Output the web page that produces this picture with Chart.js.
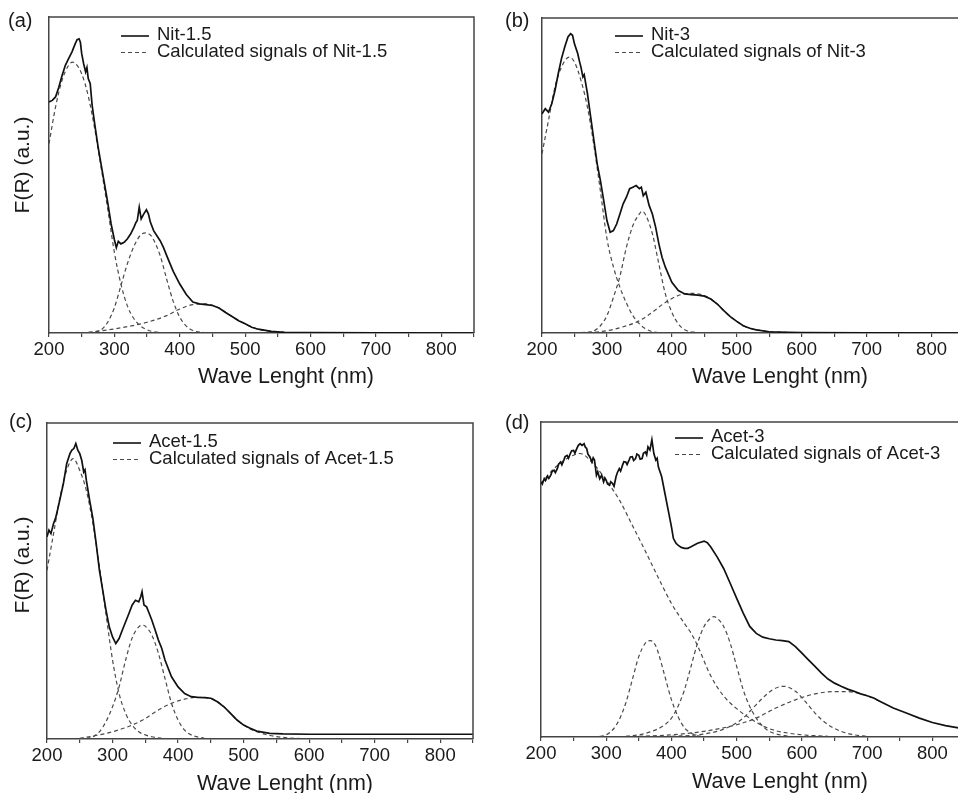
<!DOCTYPE html>
<html>
<head>
<meta charset="utf-8">
<script src="https://cdn.jsdelivr.net/npm/chart.js@4.4.1/dist/chart.umd.min.js"></script>
<style>
  html, body { margin: 0; padding: 0; background: #fff; overflow: hidden; }
  body { width: 958px; height: 793px; position: relative; }
  canvas { position: absolute; }
</style>
</head>
<body>
<canvas id="chartA" width="479" height="395" style="left:0;top:0"></canvas>
<canvas id="chartB" width="490" height="395" style="left:479px;top:0"></canvas>
<canvas id="chartC" width="479" height="393" style="left:0;top:400px"></canvas>
<canvas id="chartD" width="490" height="393" style="left:479px;top:400px"></canvas>
<script>
// sample names (legend text)
const sampleNames = ['Nit-1.5', 'Nit-3', 'Acet-1.5', 'Acet-3'];
const xTicks = [200, 300, 400, 500, 600, 700, 800];

// (a) Nit-1.5, measured spectrum
const nit15Wl = [200,205,210,215,220,225,230,235,240,243,246,248,250,253,256,258,260,263,266,270,275,280,285,290,295,300,303,306,310,315,320,325,330,333,335,338,341,345,349,352,355,360,365,370,375,380,390,400,410,420,430,440,450,460,470,480,490,500,510,520,540,560,600,700,850];
const nit15 = [73.1,73.6,74.7,77.8,81.5,84.7,86.8,88.9,91.5,92.8,93.1,92.0,88.4,85.2,82.6,84.0,80.5,79.0,72.0,66.0,59.0,53.0,47.0,41.0,34.5,29.5,27.0,29.0,28.2,28.7,29.8,31.4,33.5,35.0,35.6,39.8,36.1,37.7,39.0,37.7,35.1,32.4,30.8,29.2,27.1,24.5,19.5,15.5,12.2,9.8,9.2,9.0,8.7,7.9,6.5,5.2,3.9,2.9,1.8,1.2,0.5,0.2,0.1,0.05,0];
// (a) calculated signals
const nit15FitWl = [
  [200,210,220,230,236,240,250,260,270,280,290,300,310,320,330,340,350,360,380],
  [260,270,280,290,300,310,320,330,340,348,355,360,370,380,390,400,410,420,440],
  [250,300,350,380,400,420,440,460,480,500,520,540,560,600]
];
const nit15Fit = [
  [59.9,71.5,80.0,84.7,85.7,85.4,82.0,75.0,64.5,52.0,39.0,25.5,15.5,8.5,4.5,2.2,1.0,0.4,0],
  [0.1,0.3,1.0,3.5,8.0,15.0,22.0,27.5,31.0,31.7,31.0,29.5,24.5,17.0,10.0,5.0,2.2,0.8,0.1],
  [0,1.3,3.4,5.5,7.6,9.0,9.2,7.9,5.2,2.9,1.2,0.5,0.2,0]
];

// (b) Nit-3
const nit3Wl = [200,205,210,215,220,225,230,235,240,244,247,250,255,258,260,263,265,270,275,280,285,290,295,300,305,310,315,320,325,330,335,340,345,350,353,356,360,365,370,375,380,385,390,400,410,420,430,440,450,460,470,480,490,500,510,520,530,550,580,600,700,850];
const nit3 = [69.6,71.2,70.1,72.8,77.0,82.3,87.1,90.8,94.0,95.0,94.5,91.8,88.7,86.0,84.4,81.3,82.0,76.0,68.5,61.1,53.7,48.4,42.1,35.7,32.0,32.5,34.6,37.8,41.0,43.1,45.8,46.3,46.8,45.8,46.3,43.6,44.7,40.5,37.8,33.6,28.3,24.0,20.9,16.1,13.5,12.4,12.2,12.0,11.7,10.8,9.2,7.1,5.2,3.7,2.3,1.5,1.0,0.4,0.2,0.1,0.05,0];
const nit3FitWl = [
  [200,210,220,230,242,250,260,270,280,290,300,310,320,330,340,350,360,370,390],
  [270,280,290,300,310,320,330,340,350,354,360,370,380,390,400,410,420,440],
  [260,300,330,350,370,390,410,430,450,460,470,480,490,500,510,520,540,560,600]
];
const nit3Fit = [
  [56.9,67.5,78.1,84.4,87.6,86.0,80.2,71.7,59.5,45.0,30.0,21.0,14.5,9.5,5.5,2.9,1.3,0.4,0],
  [0.2,0.7,2.3,5.5,11.3,18.0,27.2,34.1,37.8,38.7,37.3,31.5,21.9,12.4,6.6,2.9,1.0,0.1],
  [0.1,0.7,2.3,3.9,6.6,9.7,11.9,12.6,11.9,10.8,9.2,7.1,5.2,3.7,2.3,1.5,0.7,0.3,0]
];

// (c) Acet-1.5
const acet15Wl = [200,203,206,210,213,216,220,225,230,235,238,241,244,247,250,253,256,258,260,265,270,275,280,285,290,295,300,305,310,315,320,325,330,335,340,343,345,348,352,356,360,365,370,375,380,390,400,410,420,430,440,450,460,470,480,490,500,510,520,540,560,600,850];
const acet15 = [64.0,66.1,65.0,68.2,69.8,72.4,76.1,80.8,87.1,90.3,91.4,91.9,93.5,91.4,90.3,88.2,84.5,85.2,81.9,75.6,69.8,61.9,53.4,47.1,40.8,35.5,32.3,30.2,31.8,34.5,37.1,39.7,42.4,43.9,43.4,45.0,46.6,42.4,41.8,39.7,37.6,34.5,31.3,28.7,25.0,19.7,16.5,14.4,13.4,13.2,13.1,12.9,11.8,10.2,8.1,6.0,4.4,3.4,2.5,1.8,1.6,1.5,1.5];
const acet15FitWl = [
  [200,210,220,230,240,250,260,270,280,290,300,310,320,330,340,350,360,380],
  [260,270,280,290,300,310,320,330,340,347,355,360,370,380,390,400,410,420,440],
  [250,280,300,330,350,370,390,410,430,450,460,470,480,490,500,510,520,540,560,580,610]
];
const acet15Fit = [
  [53.4,65.0,76.6,85.0,88.7,85.0,78.7,68.2,54.5,39.5,25.0,14.4,8.1,4.4,2.3,1.3,0.7,0.1],
  [0.2,0.7,2.3,5.5,10.2,16.5,25.0,32.0,35.5,36.0,34.5,32.9,27.1,19.2,11.3,6.0,2.8,1.3,0.2],
  [0.2,1.3,2.3,4.4,6.5,9.2,11.3,12.6,13.2,12.9,11.8,10.2,8.1,6.0,4.4,3.2,2.3,1.1,0.5,0.2,0]
];

// (d) Acet-3
const acet3Wl = [200,202,205,207,210,212,215,217,220,222,225,227,230,232,235,237,240,242,245,247,250,252,255,257,260,263,266,268,270,272,275,278,280,282,285,287,290,293,296,298,300,302,305,307,310,312,315,317,320,322,325,327,330,332,335,337,340,342,345,347,350,352,355,357,360,362,364,367,370,373,376,378,380,385,390,395,400,403,407,410,415,420,425,430,440,450,455,460,470,480,490,500,510,520,530,540,550,560,570,580,590,600,610,620,630,640,650,660,670,680,690,700,710,720,740,760,780,800,820,840,850];
const acet3 = [81.0,80.3,82.0,81.4,82.8,82.1,83.1,84.3,84.7,83.9,85.2,86.6,87.3,86.4,87.9,89.0,89.4,88.5,90.0,90.9,91.0,90.1,91.6,92.5,93.1,92.6,93.1,92.0,91.6,89.8,88.9,87.3,88.6,87.9,83.1,84.2,82.0,83.1,81.0,82.2,81.5,80.3,79.9,81.0,80.4,79.6,82.6,83.9,85.2,84.4,86.3,87.4,87.3,86.5,87.9,88.9,89.0,87.8,88.4,89.8,89.4,88.2,88.4,90.1,90.5,89.6,92.1,91.1,94.4,90.0,87.9,88.5,85.7,82.6,77.3,72.0,66.7,63.0,61.5,60.9,60.2,59.9,59.9,60.4,61.5,62.2,61.7,60.4,57.2,53.5,48.8,44.0,39.3,35.1,32.9,31.7,31.2,30.8,30.6,30.3,28.7,26.6,24.5,22.4,20.3,18.4,17.1,16.1,15.2,14.5,13.7,13.1,12.4,11.3,9.2,7.6,6.0,4.6,3.6,2.9,2.5];
const acet3FitWl = [
  [200,220,240,260,280,300,320,340,360,380,400,420,430,440,460,480,500,520,540,560,580,600,640],
  [290,300,310,320,330,340,350,360,368,375,380,390,400,410,420,430,440,460],
  [330,350,370,390,400,410,420,430,440,450,460,465,470,480,490,500,510,520,530,540,550,560,580],
  [400,440,470,490,510,525,540,555,572,590,605,620,640,660,680,700],
  [350,400,450,500,530,560,590,620,650,670,690,700,720]
];
const acet3Fit = [
  [80.5,85.2,88.4,90.0,86.8,81.5,75.3,67.2,59.0,50.5,42.4,36.0,33.0,29.0,19.5,13.0,9.0,6.0,3.5,2.0,1.2,0.7,0.2],
  [0.2,0.7,2.3,5.5,10.8,18.2,25.6,29.8,30.6,29.3,26.6,19.2,11.8,6.5,2.9,1.3,0.4,0],
  [0.2,0.7,1.8,3.9,6.0,9.7,15.0,22.4,29.8,35.1,37.7,38.2,37.7,35.1,29.8,22.4,15.0,9.7,6.0,3.4,1.8,1.0,0.2],
  [0.2,0.7,1.8,3.4,6.0,9.2,12.4,15.0,16.1,14.5,11.3,7.6,3.9,1.8,0.7,0.2],
  [0.2,0.7,1.8,3.9,6.0,9.2,11.8,13.7,14.4,14.4,13.7,13.1,11.3]
];

const FONT = '"Liberation Sans", Arial, Helvetica, sans-serif';
const INK = '#1a1a1a';
const AXIS = '#444';
const SOLID = '#111';
const DASH = '#4a4a4a';
Chart.defaults.font.family = FONT;
Chart.defaults.color = INK;

// frame, panel letter, axis titles and legend
const panelText = {
  id: 'panelText',
  afterDraw(chart, args, opts) {
    const { ctx, chartArea: a } = chart;
    ctx.save();
    ctx.strokeStyle = AXIS;
    ctx.lineWidth = 1.5;
    ctx.beginPath();
    ctx.moveTo(a.left, a.top);
    ctx.lineTo(a.right, a.top);
    ctx.lineTo(a.right, a.bottom);
    ctx.stroke();

    ctx.fillStyle = INK;
    ctx.textBaseline = 'middle';
    ctx.textAlign = 'left';
    ctx.font = '20px ' + FONT;
    ctx.fillText(opts.label, opts.labelX, opts.labelY);

    ctx.textAlign = 'center';
    ctx.font = '21.5px ' + FONT;
    ctx.fillText('Wave Lenght (nm)', a.left + opts.xTitleDx, a.bottom + opts.xTitleDy);

    if (opts.yTitle) {
      ctx.save();
      ctx.translate(opts.yTitleX, opts.yTitleY);
      ctx.rotate(-Math.PI / 2);
      ctx.font = '21px ' + FONT;
      ctx.fillText(opts.yTitle, 0, 0);
      ctx.restore();
    }

    const x0 = a.left + opts.legendDx;
    const y0 = a.top + opts.legendDy;
    opts.legend.forEach((txt, i) => {
      const y = y0 + i * 16.5;
      ctx.save();
      ctx.strokeStyle = i === 0 ? SOLID : DASH;
      ctx.lineWidth = i === 0 ? 1.6 : 1.2;
      ctx.setLineDash(i === 0 ? [] : [4, 3]);
      ctx.beginPath();
      ctx.moveTo(x0, y + 1);
      ctx.lineTo(x0 + 28, y + 1);
      ctx.stroke();
      ctx.restore();
      ctx.textAlign = 'left';
      ctx.font = '18.5px ' + FONT;
      ctx.fillText(txt, x0 + 36, y);
    });
    ctx.restore();
  }
};

const toXY = (xs, ys) => xs.map((x, i) => ({ x, y: ys[i] }));

function makeChart(id, name, measWl, meas, fitWl, fit, box, text) {
  const datasets = [{
    label: name,
    data: toXY(measWl, meas),
    borderColor: SOLID,
    borderWidth: 1.7,
    pointRadius: 0,
    tension: 0
  }];
  fitWl.forEach((xs, k) => datasets.push({
    label: 'Calculated signals of ' + name,
    data: toXY(xs, fit[k]),
    borderColor: DASH,
    borderWidth: 1.2,
    borderDash: [4, 3],
    pointRadius: 0,
    cubicInterpolationMode: 'monotone'
  }));

  text.legend = [name, 'Calculated signals of ' + name];

  return new Chart(document.getElementById(id), {
    type: 'line',
    data: { datasets },
    options: {
      responsive: false,
      animation: false,
      events: [],
      layout: { padding: { top: box.top, right: box.right, left: 0, bottom: 0 } },
      plugins: { legend: { display: false }, tooltip: { enabled: false }, panelText: text },
      scales: {
        x: {
          type: 'linear',
          min: 200,
          max: 850,
          afterFit: s => { s.height = box.xh; },
          grid: { drawOnChartArea: false, drawTicks: true, tickLength: 4, color: AXIS, lineWidth: 1.2 },
          border: { display: true, color: AXIS, width: 1.5 },
          ticks: {
            stepSize: 50,
            autoSkip: false,
            maxRotation: 0,
            padding: 2,
            color: INK,
            font: { size: 18.5 },
            callback: v => xTicks.includes(v) ? String(v) : ''
          }
        },
        y: {
          min: 0,
          max: 100,
          afterFit: s => { s.width = box.yw; },
          grid: { display: false },
          border: { display: true, color: AXIS, width: 1.5 },
          ticks: { display: false }
        }
      }
    },
    plugins: [panelText]
  });
}

makeChart('chartA', sampleNames[0], nit15Wl, nit15, nit15FitWl, nit15Fit,
  { top: 17, right: 5, yw: 49, xh: 62 },
  { label: '(a)', labelX: 8, labelY: 21, xTitleDx: 237, xTitleDy: 44,
    yTitle: 'F(R) (a.u.)', yTitleX: 23, yTitleY: 165, legendDx: 72, legendDy: 18 });

makeChart('chartB', sampleNames[1], nit3Wl, nit3, nit3FitWl, nit3Fit,
  { top: 18, right: 5, yw: 63, xh: 62 },
  { label: '(b)', labelX: 26, labelY: 21, xTitleDx: 238, xTitleDy: 44,
    yTitle: null, legendDx: 73, legendDy: 17 });

makeChart('chartC', sampleNames[2], acet15Wl, acet15, acet15FitWl, acet15Fit,
  { top: 23, right: 6, yw: 47, xh: 54 },
  { label: '(c)', labelX: 9, labelY: 22, xTitleDx: 238, xTitleDy: 45,
    yTitle: 'F(R) (a.u.)', yTitleX: 23, yTitleY: 165, legendDx: 66, legendDy: 19 });

makeChart('chartD', sampleNames[3], acet3Wl, acet3, acet3FitWl, acet3Fit,
  { top: 22, right: 4, yw: 62, xh: 56 },
  { label: '(d)', labelX: 26, labelY: 23, xTitleDx: 239, xTitleDy: 45,
    yTitle: null, legendDx: 134, legendDy: 15 });
</script>
</body>
</html>
